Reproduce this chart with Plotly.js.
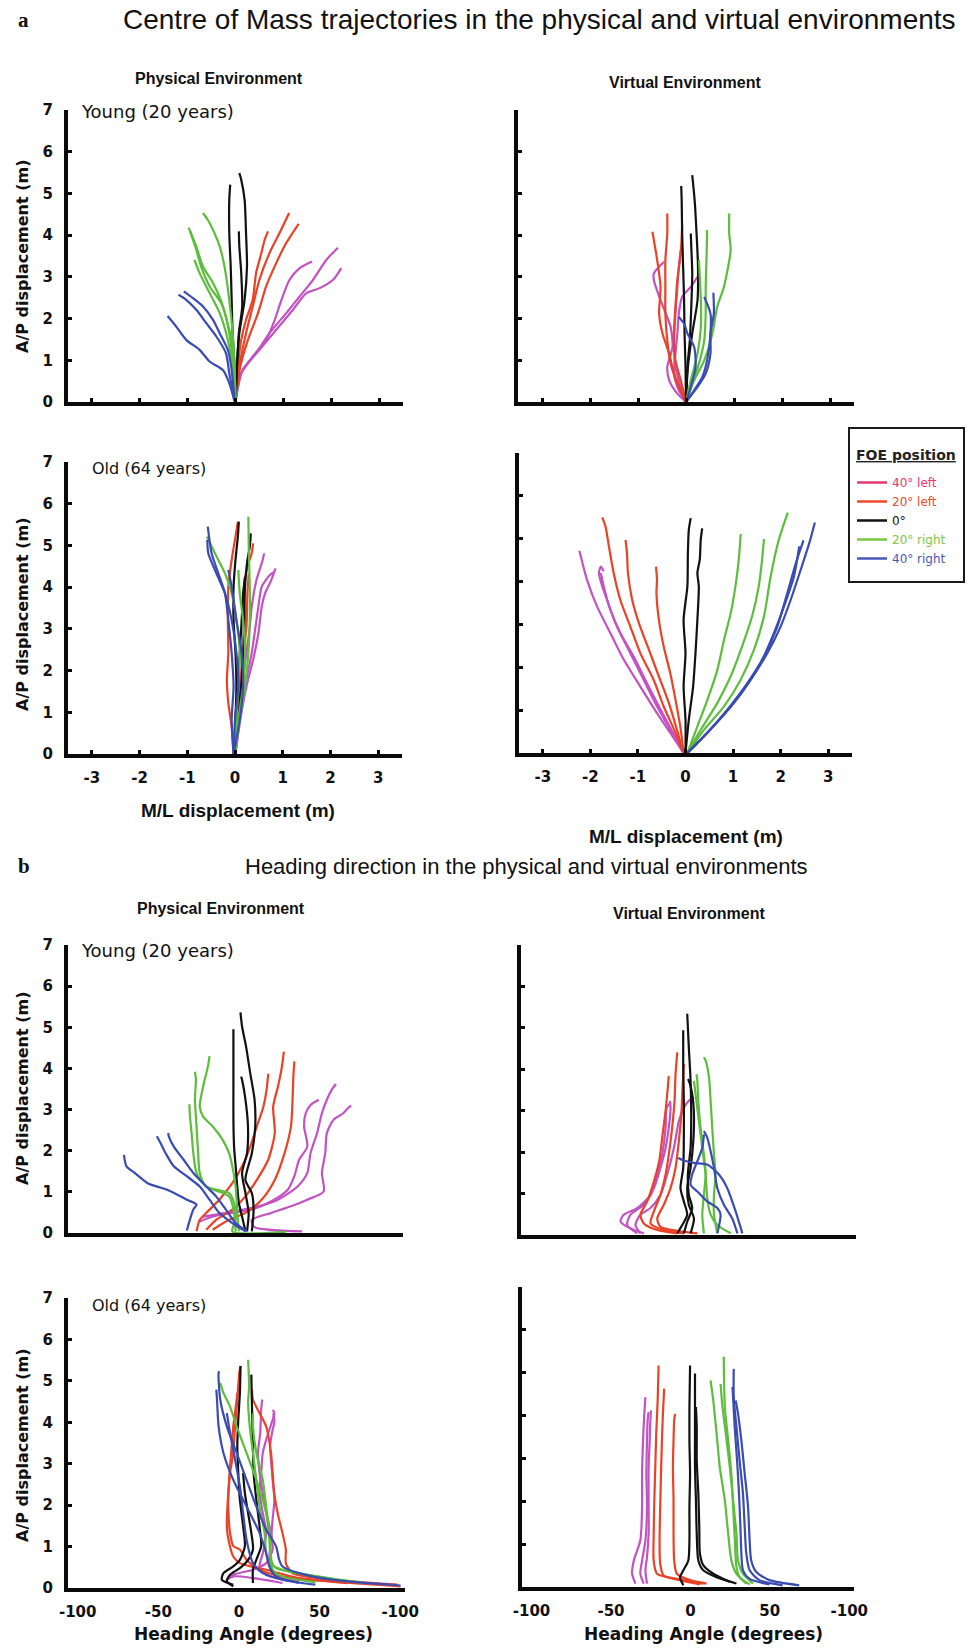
<!DOCTYPE html>
<html>
<head>
<meta charset="utf-8">
<script src="https://cdn.plot.ly/plotly-3.0.1.min.js"></script>
<style>html,body{margin:0;padding:0;background:#fff;}#chart{width:968px;height:1649px;}</style>
</head>
<body>
<div id="chart"></div>
<script>
// ================= DATA =================
// FOE positions (legend)
const conditions = ['40° left', '20° left', '0°', '20° right', '40° right'];
const traceColors = ['#c352c3', '#ea4226', '#111111', '#5dbd3d', '#3a4cb2'];
const legendColors = ['#e6386f', '#ee4a2b', '#111111', '#7cc645', '#4a57b7'];
const mlTicks = [-3, -2, -1, 0, 1, 2, 3];
const mlTickText = ['-3', '-2', '-1', '0', '1', '2', '3'];
const headTicks = [-100, -50, 0, 50, 100];
const headTickText = ['-100', '-50', '0', '50', '-100'];
const apTicks = [0, 1, 2, 3, 4, 5, 6, 7];
const apTickText = ['0', '1', '2', '3', '4', '5', '6', '7'];

// Each trial: flat list [x0, y0, x1, y1, ...]
// ---- a: Centre of Mass, Young, Physical (x = M/L m, y = A/P m)
const comYoungPhysLeft40 = [
  [0,0.01, 0.08,0.61, 0.36,1.09, 0.64,1.49, 0.82,1.97, 0.96,2.45, 1.13,2.93, 1.34,3.21, 1.60,3.37],
  [0,0.01, 0.12,0.69, 0.43,1.17, 0.71,1.65, 1.06,2.13, 1.34,2.53, 1.62,2.93, 1.90,3.41, 2.14,3.70],
  [0,0.01, 0.15,0.77, 0.50,1.25, 0.85,1.73, 1.20,2.21, 1.48,2.61, 1.76,2.73, 2.04,2.93, 2.21,3.21]];
const comYoungPhysLeft20 = [
  [0,0.01, 0.05,0.85, 0.12,1.49, 0.22,1.97, 0.36,2.45, 0.43,3.09, 0.54,3.57, 0.61,3.89, 0.68,4.09],
  [0,0.01, 0.08,0.85, 0.22,1.65, 0.36,2.29, 0.50,2.93, 0.71,3.57, 0.92,4.05, 1.12,4.53],
  [0,0.01, 0.10,0.85, 0.26,1.49, 0.47,2.13, 0.64,2.77, 0.85,3.33, 1.06,3.81, 1.32,4.27]];
const comYoungPhysZero = [
  [0,0.01, -0.02,0.85, -0.06,1.65, -0.08,2.45, -0.10,3.25, -0.13,4.05, -0.13,4.85, -0.11,5.21],
  [0,0.01, 0.03,0.85, 0.08,1.65, 0.19,2.45, 0.24,3.25, 0.22,4.05, 0.19,4.85, 0.12,5.33, 0.08,5.49],
  [0,0.01, 0.03,0.85, 0.07,1.65, 0.14,2.29, 0.12,3.09, 0.08,3.73, 0.07,4.09]];
const comYoungPhysRight20 = [
  [0,0.01, -0.02,0.85, -0.06,1.65, -0.13,2.45, -0.23,3.25, -0.33,3.73, -0.44,4.05, -0.58,4.37, -0.68,4.53],
  [0,0.01, -0.06,1.01, -0.13,1.65, -0.26,2.29, -0.47,2.85, -0.68,3.25, -0.82,3.73, -0.93,4.05, -0.98,4.18],
  [0,0.01, -0.06,0.85, -0.16,1.49, -0.33,2.13, -0.54,2.61, -0.75,3.09, -0.86,3.41],
  [0,0.01, -0.04,1.17, -0.13,1.73, -0.30,2.37, -0.54,2.77, -0.72,3.25, -0.82,3.65, -0.95,4.09]];
const comYoungPhysRight40 = [
  [-0.02,0.01, -0.13,0.45, -0.26,0.76, -0.54,0.97, -0.75,1.25, -1.03,1.49, -1.24,1.81, -1.42,2.06],
  [-0.02,0.05, -0.13,0.69, -0.20,1.17, -0.40,1.57, -0.61,1.89, -0.82,2.21, -1.03,2.45, -1.19,2.57],
  [-0.02,0.05, -0.09,0.85, -0.16,1.25, -0.33,1.65, -0.47,1.97, -0.68,2.29, -0.89,2.49, -1.08,2.65]];

// ---- a: Centre of Mass, Young, Virtual
const comYoungVirtLeft40 = [
  [0,0, -0.18,0.20, -0.35,0.52, -0.39,0.84, -0.28,1.32, -0.32,1.80, -0.42,2.12, -0.53,2.44, -0.67,2.92, -0.67,3.08, -0.46,3.36],
  [0,0, -0.15,0.28, -0.25,0.68, -0.22,1.16, -0.18,1.64, -0.15,2.12, -0.08,2.52, 0.10,2.76, 0.24,3.00],
  [0,0, -0.11,0.36, -0.22,0.84, -0.25,1.48, -0.22,2.12, -0.18,2.76, -0.15,3.24, -0.11,3.64]];
const comYoungVirtLeft20 = [
  [0,0, -0.11,0.28, -0.25,0.68, -0.35,1.16, -0.49,1.64, -0.56,2.12, -0.53,2.76, -0.60,3.40, -0.70,4.08],
  [0,0, -0.18,0.44, -0.32,0.92, -0.39,1.48, -0.43,2.12, -0.43,2.76, -0.43,3.40, -0.39,4.04, -0.39,4.52],
  [0,0, -0.11,0.52, -0.22,1.00, -0.25,1.64, -0.22,2.28, -0.18,2.92, -0.11,3.56, -0.08,4.24]];
const comYoungVirtZero = [
  [0,0, -0.01,0.84, -0.03,1.64, -0.04,2.44, -0.06,3.24, -0.08,4.04, -0.09,4.84, -0.10,5.18],
  [0,0, 0.04,0.84, 0.13,1.64, 0.24,2.44, 0.25,3.24, 0.22,4.04, 0.18,4.84, 0.13,5.44],
  [0,0, 0.03,0.84, 0.08,1.48, 0.11,2.28, 0.13,3.08, 0.11,3.72, 0.10,4.04]];
const comYoungVirtRight20 = [
  [0,0, 0.13,0.44, 0.27,0.92, 0.38,1.48, 0.41,2.12, 0.41,2.76, 0.43,3.56, 0.44,4.12],
  [0,0, 0.17,0.52, 0.38,1.00, 0.55,1.64, 0.65,2.28, 0.79,2.76, 0.93,3.64, 0.90,4.04, 0.90,4.52],
  [0,0, 0.10,0.52, 0.24,1.16, 0.31,1.80, 0.31,2.44, 0.29,2.92, 0.27,3.40]];
const comYoungVirtRight40 = [
  [0,0, 0.24,0.36, 0.41,0.68, 0.51,1.16, 0.51,1.64, 0.58,2.12, 0.57,2.62],
  [0,0, 0.10,0.36, 0.20,0.84, 0.17,1.32, 0.03,1.64, -0.04,1.88, -0.15,2.04],
  [0,0, 0.17,0.28, 0.34,0.60, 0.44,1.00, 0.51,1.64, 0.51,2.12, 0.41,2.44, 0.38,2.52]];

// ---- a: Centre of Mass, Old, Physical
const comOldPhysLeft40 = [
  [0.01,0, 0.07,0.82, 0.14,1.62, 0.24,2.42, 0.31,3.05, 0.35,3.53, 0.45,4.17, 0.58,4.65, 0.61,4.81],
  [0.01,0, 0.11,0.82, 0.24,1.62, 0.38,2.26, 0.49,2.89, 0.56,3.53, 0.63,3.85, 0.76,4.17, 0.85,4.45],
  [0.01,0, 0.09,0.82, 0.21,1.62, 0.35,2.42, 0.43,3.05, 0.49,3.53, 0.56,4.01, 0.73,4.29, 0.83,4.37]];
const comOldPhysLeft20 = [
  [-0.03,0, -0.07,0.66, -0.14,1.22, -0.17,1.78, -0.14,2.42, -0.15,3.21, -0.14,4.01, -0.07,4.65, 0.01,5.21, 0.06,5.57],
  [0,0, 0.06,0.82, 0.14,1.62, 0.21,2.42, 0.21,3.21, 0.19,4.01, 0.26,4.49, 0.35,4.81, 0.38,5.05],
  [0,0, 0.03,0.82, 0.10,1.62, 0.17,2.42, 0.24,3.05, 0.26,3.85, 0.29,4.33]];
const comOldPhysZero = [
  [0,0, 0.01,0.82, 0.03,1.62, 0.01,2.42, -0.03,3.21, -0.03,4.01, 0.01,4.65, 0.06,5.21, 0.08,5.57],
  [0,0, 0.06,0.82, 0.13,1.62, 0.17,2.42, 0.19,3.21, 0.21,4.01, 0.26,4.65, 0.31,4.97, 0.33,5.29],
  [0,0, 0.01,0.82, 0.06,1.62, 0.10,2.42, 0.14,3.21, 0.17,3.85, 0.21,4.25]];
const comOldPhysRight20 = [
  [0,0, 0.03,0.82, 0.07,1.62, 0.10,2.42, 0.03,3.21, -0.07,3.85, -0.21,4.33, -0.42,4.81, -0.59,5.21],
  [0,0, 0.10,0.82, 0.21,1.62, 0.28,2.42, 0.31,3.21, 0.31,4.01, 0.29,4.81, 0.28,5.69],
  [0,0, 0.07,0.82, 0.17,1.62, 0.21,2.42, 0.17,3.21, 0.10,3.85, 0.07,4.41]];
const comOldPhysRight40 = [
  [-0.03,0, -0.07,0.82, -0.03,1.62, -0.07,2.42, -0.14,3.21, -0.21,3.85, -0.35,4.33, -0.49,4.81, -0.57,5.45],
  [-0.03,0, 0,0.82, 0.07,1.62, 0.03,2.42, -0.07,3.21, -0.21,3.85, -0.42,4.41, -0.56,4.81, -0.58,5.13],
  [-0.03,0, 0.10,0.82, 0.17,1.62, 0.14,2.42, 0.03,3.21, -0.07,4.01, -0.14,4.41]];

// ---- a: Centre of Mass, Old, Virtual
const comOldVirtLeft40 = [
  [-0.04,0, -0.32,0.47, -0.60,0.93, -0.95,1.55, -1.30,2.18, -1.58,2.80, -1.86,3.42, -2.07,4.04, -2.23,4.72],
  [-0.04,0, -0.32,0.54, -0.60,1.09, -0.88,1.71, -1.16,2.33, -1.44,2.95, -1.65,3.57, -1.79,4.04, -1.82,4.20, -1.78,4.35, -1.72,4.24],
  [-0.04,0, -0.28,0.51, -0.56,1.09, -0.81,1.63, -1.09,2.25, -1.37,2.80, -1.58,3.34, -1.72,3.89, -1.78,4.20]];
const comOldVirtLeft20 = [
  [-0.04,0, -0.21,0.47, -0.46,1.09, -0.67,1.71, -0.95,2.33, -1.16,2.95, -1.37,3.57, -1.51,4.20, -1.61,4.82, -1.68,5.28, -1.75,5.50],
  [-0.04,0, -0.18,0.54, -0.35,1.17, -0.56,1.79, -0.77,2.41, -0.98,3.03, -1.12,3.57, -1.21,4.20, -1.23,4.66, -1.26,4.97],
  [-0.04,0, -0.11,0.62, -0.21,1.24, -0.32,1.86, -0.46,2.49, -0.56,3.11, -0.61,3.73, -0.60,4.04, -0.62,4.35]];
const comOldVirtZero = [
  [0,0, 0,0.78, -0.04,1.55, 0,2.33, -0.04,3.11, 0.04,3.89, 0.05,4.66, 0.07,5.21, 0.11,5.48],
  [0,0, 0.07,0.78, 0.16,1.55, 0.21,2.33, 0.25,3.11, 0.28,3.89, 0.25,4.20, 0.30,4.51, 0.32,4.97, 0.35,5.24]];
const comOldVirtRight20 = [
  [0.04,0, 0.25,0.62, 0.46,1.24, 0.67,1.94, 0.81,2.64, 0.95,3.26, 1.05,3.89, 1.12,4.51, 1.16,5.11],
  [0.04,0, 0.32,0.54, 0.67,1.17, 0.95,1.79, 1.19,2.49, 1.40,3.19, 1.54,3.89, 1.61,4.51, 1.65,4.99],
  [0.04,0, 0.39,0.54, 0.81,1.09, 1.16,1.71, 1.44,2.41, 1.65,3.19, 1.79,4.12, 1.96,4.97, 2.15,5.61]];
const comOldVirtRight40 = [
  [0.04,0, 0.46,0.47, 0.88,1.01, 1.30,1.63, 1.65,2.25, 1.93,2.95, 2.14,3.73, 2.32,4.43, 2.48,4.96],
  [0.04,0, 0.49,0.51, 0.95,1.09, 1.37,1.71, 1.72,2.33, 2.00,2.95, 2.21,3.57, 2.42,4.27, 2.60,4.89, 2.72,5.38],
  [0.04,0, 0.42,0.43, 0.84,0.93, 1.23,1.48, 1.58,2.10, 1.86,2.80, 2.07,3.42, 2.28,4.12, 2.39,4.82]];

// ---- b: Heading direction, Young, Physical (x = heading angle deg, y = A/P m)
const headYoungPhysLeft40 = [
  [-23.8,0.28, -15.7,0.40, -3.5,0.49, 8.7,0.57, 20.9,0.77, 31.1,1.05, 35.2,1.38, 38.2,1.78, 43.3,2.10, 41.3,2.59, 42.3,2.91, 45.3,3.11, 50.4,3.24],
  [-21.7,0.40, -7.5,0.49, 8.7,0.61, 25.0,0.81, 37.2,1.13, 43.3,1.46, 45.3,1.94, 49.4,2.43, 52.4,2.91, 55.5,3.24, 58.5,3.48, 61.2,3.62],
  [40.0,0.04, 10.0,0.15, 8.7,0.32, 20.9,0.49, 33.1,0.65, 43.3,0.81, 53.5,1.01, 52.4,1.46, 54.5,1.94, 55.5,2.43, 59.6,2.75, 65.7,2.91, 69.7,3.07, 70.7,3.09]];
const headYoungPhysLeft20 = [
  [-25.8,0.04, -23.8,0.32, -19.7,0.49, -11.6,0.81, -3.5,1.21, 2.6,1.62, 7.7,2.10, 11.8,2.59, 15.9,3.07, 17.9,3.48, 18.9,3.87],
  [-19.7,0.08, -13.6,0.32, -3.5,0.57, 4.7,0.89, 11.8,1.29, 18.9,1.78, 23.0,2.43, 22.0,3.07, 25.0,3.56, 27.1,3.96, 28.7,4.41],
  [-15.7,0.08, -5.5,0.32, 4.7,0.49, 14.8,0.81, 23.0,1.29, 29.1,1.94, 33.1,2.59, 34.1,3.24, 34.6,3.80, 35.2,4.17]];
const headYoungPhysZero = [
  [4.7,0.04, 2.6,0.40, 0.6,0.73, -0.4,1.13, -1.4,1.62, -2.4,2.10, -2.8,2.75, -2.8,3.56, -2.8,4.37, -2.8,4.95],
  [8.7,0.04, 9.8,0.57, 8.7,0.97, 4.7,1.29, 8.7,1.94, 10.8,2.59, 10.4,3.24, 7.7,3.88, 5.1,4.53, 2.6,5.02, 1.6,5.36],
  [5.7,0.04, 6.7,0.49, 4.7,0.97, 2.6,1.46, 5.7,1.94, 6.3,2.59, 4.7,3.24, 2.6,3.72, 2.0,3.80]];
const headYoungPhysRight20 = [
  [30.0,0.03, -3.5,0.04, -1.4,0.32, -2.4,0.73, -5.5,0.97, -19.7,1.13, -23.8,1.46, -24.8,1.94, -25.8,2.59, -26.8,3.24, -26.2,3.72, -26.8,3.92],
  [0.6,0.04, -0.4,0.49, -1.4,1.13, -3.5,1.62, -5.5,1.94, -9.6,2.27, -15.7,2.59, -21.7,2.83, -23.8,3.07, -21.7,3.56, -18.7,4.05, -17.7,4.30],
  [-1.4,0.04, -2.4,0.49, -5.5,0.89, -19.7,1.13, -25.8,1.46, -27.8,1.94, -28.9,2.43, -29.9,2.83, -30.3,3.13]];
const headYoungPhysRight40 = [
  [-31.9,0.06, -27.8,0.57, -25.8,0.69, -31.9,0.81, -44.1,1.05, -56.3,1.21, -64.4,1.46, -69.5,1.62, -71.1,1.90],
  [4.7,0.04, -3.5,0.24, -11.6,0.49, -17.7,0.81, -23.8,1.13, -31.9,1.38, -40.0,1.62, -45.1,1.94, -48.2,2.18, -50.6,2.35],
  [5.7,0.04, -1.4,0.24, -7.5,0.57, -13.6,0.89, -19.7,1.13, -27.8,1.46, -33.9,1.78, -40.0,2.10, -43.1,2.35, -43.5,2.43]];

// ---- b: Heading direction, Young, Virtual
const headYoungVirtLeft40 = [
  [-29.4,0.04, -37.7,0.16, -43.9,0.32, -41.9,0.49, -33.5,0.65, -25.2,0.97, -21.0,1.46, -17.9,1.94, -15.8,2.59, -15.2,3.07, -12.7,3.20],
  [-31.5,0.04, -34.6,0.24, -31.5,0.49, -25.2,0.65, -19.0,0.97, -14.8,1.46, -10.6,2.10, -7.5,2.75, -4.4,3.07, -1.3,3.24, 1.9,3.32],
  [-33.5,0.04, -39.8,0.24, -37.7,0.49, -29.4,0.73, -23.1,1.13, -19.0,1.62, -15.8,2.10, -13.8,2.59, -12.7,3.07, -13.1,3.24]];
const headYoungVirtLeft20 = [
  [-8.5,0.04, -21.0,0.12, -29.4,0.28, -31.5,0.49, -27.3,0.81, -23.1,1.29, -19.8,1.78, -17.9,2.35, -15.8,3.00, -14.4,3.56, -13.8,3.84],
  [-4.4,0.04, -16.9,0.12, -25.2,0.28, -23.1,0.57, -19.0,0.97, -15.8,1.46, -13.8,1.94, -11.7,2.59, -10.2,3.24, -9.6,3.88, -8.5,4.41],
  [4.0,0.04, -8.5,0.10, -19.0,0.20, -21.0,0.40, -16.9,0.73, -12.7,1.13, -9.6,1.62, -7.5,2.27, -6.0,2.91, -5.2,3.56, -4.4,4.13]];
const headYoungVirtZero = [
  [-8.5,0.04, -5.4,0.24, -2.3,0.49, -4.4,0.81, -6.5,1.13, -4.8,1.62, -4.4,2.43, -4.4,3.24, -4.8,4.05, -4.8,4.94],
  [-4.4,0.04, -2.3,0.32, 0.8,0.65, -1.3,0.97, -1.9,1.46, -0.2,2.10, 0.2,2.91, -0.2,3.72, -1.3,4.53, -1.9,5.02, -2.3,5.34],
  [-0.2,0.04, 1.9,0.40, -1.3,0.73, -2.3,1.13, -0.2,1.62, 1.5,2.27, 1.9,2.91, 0.8,3.40, -1.3,3.72, -1.9,3.76]];
const headYoungVirtRight20 = [
  [16.5,0.04, 14.4,0.49, 14.4,0.97, 15.4,1.46, 14.4,1.94, 13.3,2.59, 12.3,3.24, 11.3,3.80, 9.2,4.21, 8.1,4.29],
  [8.1,0.04, 7.1,0.49, 8.1,0.97, 9.2,1.46, 8.1,1.94, 6.0,2.59, 4.6,3.24, 4.0,3.72, 3.5,3.88],
  [24.8,0.04, 16.5,0.24, 12.3,0.49, 10.2,0.89, 9.2,1.46, 7.1,2.10, 5.0,2.75, 2.9,3.40, 1.9,3.72]];
const headYoungVirtRight40 = [
  [32.1,0.04, 27.9,0.57, 22.7,1.13, 17.5,1.46, 10.2,1.70, 1.9,1.74, -4.4,1.80, -7.9,1.86],
  [16.5,0.04, 18.5,0.49, 16.5,0.65, 10.2,0.81, 4.0,1.05, -0.2,1.21, 0.8,1.46, 4.0,1.78, 7.1,2.10, 8.1,2.43],
  [29.0,0.04, 25.8,0.40, 20.6,0.73, 16.5,1.13, 14.4,1.62, 12.3,2.02, 10.2,2.35, 8.1,2.51]];

// ---- b: Heading direction, Old, Physical
const headOldPhysLeft40 = [
  [27.0,0.12, 8.7,0.24, -3.5,0.28, -7.5,0.20, -3.5,0.32, 8.7,0.44, 16.9,0.60, 20.9,0.93, 19.9,1.33, 16.9,1.81, 14.8,2.29, 12.8,2.78, 11.8,3.26, 13.2,3.74, 13.8,4.30, 14.4,4.55],
  [37.2,0.16, 16.9,0.32, 12.8,0.52, 14.8,0.84, 16.9,1.33, 14.8,1.81, 12.8,2.29, 13.8,2.78, 14.8,3.26, 16.9,3.58, 20.9,4.06, 22.0,4.22, 20.9,4.30],
  [27.0,0.20, 20.9,0.36, 18.9,0.68, 19.9,1.17, 20.9,1.65, 22.0,2.13, 20.9,2.61, 19.9,3.10, 19.3,3.42, 20.5,3.74, 22.0,4.02, 21.3,4.22]];
const headOldPhysLeft20 = [
  [100.2,0.04, 57.5,0.16, 27.0,0.28, 12.8,0.44, 4.7,0.68, 0.6,0.93, -3.5,1.01, -5.5,1.33, -6.5,1.81, -6.5,2.29, -5.5,2.78, -3.5,3.26, -2.4,3.90, -1.0,4.55, 0.2,5.19, 1.0,5.36],
  [98.2,0.08, 57.5,0.20, 33.1,0.36, 29.1,0.60, 29.1,0.93, 27.0,1.33, 24.0,1.81, 21.9,2.29, 20.9,2.78, 19.9,3.26, 16.9,3.90, 12.8,4.22, 8.7,4.55, 8.1,4.79],
  [67.7,0.12, 37.2,0.24, 16.9,0.44, 0.6,0.60, -3.5,0.76, -6.5,1.17, -7.5,1.49, -7.1,1.97, -6.3,2.45, -5.5,2.94, -4.5,3.42, -3.5,3.90, -1.4,4.55, -1.0,4.71]];
const headOldPhysZero = [
  [-3.5,0.08, -10.6,0.20, -9.6,0.36, -3.5,0.52, 0.6,0.68, 3.7,1.01, 2.6,1.49, 0.6,2.13, -0.4,2.78, -1.0,3.42, -0.4,4.06, 0.6,4.71, 1.0,5.36],
  [8.7,0.12, 8.7,0.44, 10.8,0.68, 13.8,1.01, 12.8,1.49, 10.8,2.13, 9.1,2.78, 8.7,3.42, 8.3,4.06, 7.9,4.71, 7.7,5.15],
  [-3.5,0.04, -7.5,0.16, -5.5,0.32, 0.6,0.48, 5.7,0.68, 8.7,0.93, 7.7,1.33, 5.7,1.81, 3.7,2.29, 2.6,2.78]];
const headOldPhysRight20 = [
  [77.8,0.12, 47.4,0.28, 27.0,0.44, 18.9,0.60, 16.9,0.84, 15.9,1.33, 12.8,1.97, 10.8,2.61, 8.7,3.26, 6.7,3.90, 5.7,4.47, 6.3,4.87, 5.7,5.51],
  [67.7,0.16, 37.2,0.36, 23.0,0.48, 19.9,0.68, 18.9,1.17, 16.9,1.81, 10.8,2.61, 4.7,3.26, -1.4,3.90, -5.5,4.38, -9.6,4.71, -11.6,4.95],
  [47.4,0.14, 27.0,0.28, 20.9,0.44, 19.9,0.76, 18.9,1.33, 16.9,1.97, 14.8,2.61, 10.8,3.26, 8.7,3.90, 8.7,4.22]];
const headOldPhysRight40 = [
  [100.2,0.06, 57.5,0.20, 37.2,0.36, 27.0,0.52, 25.0,0.68, 23.0,1.01, 16.9,1.41, 10.8,1.97, 4.7,2.61, -1.4,3.26, -7.5,3.90, -11.6,4.55, -12.6,5.19, -12.2,5.23],
  [37.2,0.12, 23.0,0.28, 18.9,0.52, 16.9,0.84, 12.8,1.33, 4.7,1.97, -3.5,2.61, -9.6,3.26, -12.6,3.90, -13.6,4.55, -14.0,4.79],
  [47.4,0.08, 27.0,0.20, 14.8,0.36, 8.7,0.60, 4.7,1.17, 2.6,1.81, 0.6,2.45, -2.4,3.10, -5.5,3.74, -7.5,4.22]];

// ---- b: Heading direction, Old, Virtual
const headOldVirtLeft40 = [
  [-34.6,0.08, -36.7,0.31, -35.6,0.62, -31.5,1.09, -30.4,1.87, -30.4,2.64, -29.8,3.42, -29.0,4.04, -28.3,4.43],
  [-29.4,0.08, -31.5,0.31, -30.4,0.62, -28.3,1.09, -27.3,1.87, -27.7,2.64, -27.3,3.42, -26.9,3.89, -26.3,4.08],
  [-27.3,0.08, -28.3,0.39, -27.3,0.70, -26.3,1.24, -26.3,2.02, -26.3,2.80, -25.6,3.42, -25.2,3.89, -24.8,4.12]];
const headOldVirtLeft20 = [
  [8.1,0.08, -8.5,0.19, -21.0,0.31, -23.1,0.62, -23.1,1.24, -22.7,2.02, -22.1,2.80, -21.5,3.58, -20.6,4.35, -20.0,5.17],
  [6.0,0.06, -6.5,0.16, -16.9,0.27, -19.0,0.54, -19.4,1.09, -19.0,1.87, -18.5,2.64, -17.9,3.42, -17.3,4.04, -16.5,4.63],
  [10.2,0.08, -0.2,0.16, -8.5,0.31, -10.2,0.62, -10.6,1.24, -10.6,2.02, -11.0,2.80, -10.6,3.42, -10.2,3.89, -9.6,4.04]];
const headOldVirtZero = [
  [-4.4,0.04, -6.5,0.23, -4.4,0.39, -1.3,0.62, -0.6,1.09, -0.6,1.87, -0.2,2.64, -0.6,3.42, -0.6,4.20, -0.2,5.17],
  [29.0,0.08, 16.5,0.23, 8.1,0.39, 5.0,0.62, 4.0,1.24, 3.5,2.02, 2.9,2.80, 2.9,3.58, 2.9,4.20, 2.9,4.98],
  [24.8,0.12, 14.4,0.31, 8.1,0.51, 6.0,0.78, 5.6,1.40, 5.0,2.18, 4.0,2.95, 4.0,3.73, 3.5,4.20]];
const headOldVirtRight20 = [
  [35.2,0.08, 29.0,0.31, 25.8,0.62, 23.8,1.24, 21.7,2.02, 18.5,2.80, 16.5,3.58, 14.4,4.35, 12.7,4.82],
  [37.3,0.06, 31.0,0.23, 29.0,0.47, 28.0,1.09, 26.9,1.87, 25.8,2.64, 23.8,3.42, 21.7,4.20, 21.0,5.37],
  [39.4,0.08, 33.1,0.31, 30.0,0.62, 29.0,1.24, 26.9,2.02, 24.8,2.80, 22.3,3.58, 20.2,4.20, 19.0,4.74]];
const headOldVirtRight40 = [
  [58.1,0.04, 43.5,0.16, 37.3,0.39, 35.2,0.78, 34.2,1.40, 33.1,2.18, 31.0,2.95, 29.0,3.73, 27.3,4.43, 27.3,5.09],
  [49.8,0.06, 37.3,0.19, 33.1,0.39, 32.1,0.78, 31.5,1.40, 30.6,2.18, 29.4,2.95, 27.9,3.73, 26.9,4.43, 26.5,4.67],
  [68.5,0.04, 49.8,0.16, 41.5,0.35, 38.3,0.62, 37.3,1.09, 36.3,1.87, 34.2,2.64, 32.1,3.42, 30.0,4.04, 28.5,4.35]];

// ================= LAYOUT HELPERS =================
const W = 968, H = 1649;
const px = x => x / W;
const py = y => 1 - y / H;

const panels = [
  {ax: '', box: [68, 403, 110, 402], xr: [-3.5, 3.5], kind: 'com', xlab: false, ylab: true,
   sets: [comYoungPhysLeft40, comYoungPhysLeft20, comYoungPhysZero, comYoungPhysRight20, comYoungPhysRight40]},
  {ax: '2', box: [518, 854, 110, 402], xr: [-3.5, 3.5], kind: 'com', xlab: false, ylab: false,
   sets: [comYoungVirtLeft40, comYoungVirtLeft20, comYoungVirtZero, comYoungVirtRight20, comYoungVirtRight40]},
  {ax: '3', box: [68, 402, 462, 754], xr: [-3.5, 3.5], kind: 'com', xlab: true, ylab: true,
   sets: [comOldPhysLeft40, comOldPhysLeft20, comOldPhysZero, comOldPhysRight20, comOldPhysRight40]},
  {ax: '4', box: [519, 852, 453, 753], xr: [-3.5, 3.5], kind: 'com', xlab: true, ylab: false,
   sets: [comOldVirtLeft40, comOldVirtLeft20, comOldVirtZero, comOldVirtRight20, comOldVirtRight40]},
  {ax: '5', box: [68, 403, 945, 1233], xr: [-106, 103], kind: 'head', xlab: false, ylab: true,
   sets: [headYoungPhysLeft40, headYoungPhysLeft20, headYoungPhysZero, headYoungPhysRight20, headYoungPhysRight40]},
  {ax: '6', box: [521, 856, 945, 1235], xr: [-106, 103], kind: 'head', xlab: false, ylab: false,
   sets: [headYoungVirtLeft40, headYoungVirtLeft20, headYoungVirtZero, headYoungVirtRight20, headYoungVirtRight40]},
  {ax: '7', box: [68, 405, 1298, 1588], xr: [-106, 103], kind: 'head', xlab: true, ylab: true,
   sets: [headOldPhysLeft40, headOldPhysLeft20, headOldPhysZero, headOldPhysRight20, headOldPhysRight40]},
  {ax: '8', box: [522, 854, 1287, 1587], xr: [-106, 103], kind: 'head', xlab: true, ylab: false,
   sets: [headOldVirtLeft40, headOldVirtLeft20, headOldVirtZero, headOldVirtRight20, headOldVirtRight40]}
];

const traces = [];
const layout = {
  width: W, height: H,
  margin: {l: 0, r: 0, t: 0, b: 0},
  paper_bgcolor: '#ffffff', plot_bgcolor: 'rgba(0,0,0,0)',
  showlegend: true,
  font: {family: 'DejaVu Sans, sans-serif', color: '#111'},
  annotations: [], shapes: []
};

const tickFont = {family: 'DejaVu Sans', size: 15, weight: 'bold', color: '#111'};

panels.forEach(p => {
  const [x0, x1, y0, y1] = p.box;
  const xa = 'xaxis' + p.ax, ya = 'yaxis' + p.ax;
  const xref = 'x' + p.ax, yref = 'y' + p.ax;
  layout[xa] = {
    domain: [px(x0), px(x1)], range: p.xr, anchor: yref,
    showline: true, linecolor: '#0a0a0a', linewidth: 4,
    showgrid: false, zeroline: false, fixedrange: true,
    tickmode: 'array',
    tickvals: p.kind === 'com' ? mlTicks : headTicks,
    ticktext: p.kind === 'com' ? mlTickText : headTickText,
    ticks: p.kind === 'com' ? 'inside' : '', ticklen: 4, tickwidth: 3, tickcolor: '#0a0a0a',
    showticklabels: p.xlab, tickfont: tickFont, ticklabelstandoff: 7
  };
  layout[ya] = {
    domain: [py(y1), py(y0)], range: [0, 7], anchor: xref,
    showline: true, linecolor: '#0a0a0a', linewidth: 4,
    showgrid: false, zeroline: false, fixedrange: true,
    tickmode: 'array', tickvals: apTicks, ticktext: apTickText,
    ticks: 'inside', ticklen: 4, tickwidth: 3, tickcolor: '#0a0a0a',
    showticklabels: p.ylab, tickfont: tickFont, ticklabelstandoff: 8
  };
  p.sets.forEach((trials, ci) => {
    trials.forEach(t => {
      const xs = [], ys = [];
      for (let i = 0; i < t.length; i += 2) { xs.push(t[i]); ys.push(t[i + 1]); }
      traces.push({
        type: 'scatter', mode: 'lines', x: xs, y: ys, xaxis: xref, yaxis: yref,
        line: {color: traceColors[ci], width: 2.2, shape: 'spline', smoothing: 0.7},
        showlegend: false, hoverinfo: 'skip'
      });
    });
  });
});

// legend entries (FOE position)
conditions.forEach((c, i) => {
  traces.push({
    type: 'scatter', mode: 'lines', x: [null], y: [null], xaxis: 'x4', yaxis: 'y4',
    name: "<span style='color:" + legendColors[i] + "'>" + c + "</span>",
    line: {color: legendColors[i], width: 2.5}, showlegend: true
  });
});
layout.legend = {
  x: px(852), y: py(468), xanchor: 'left', yanchor: 'top',
  borderwidth: 0, bgcolor: 'rgba(0,0,0,0)',
  font: {family: 'DejaVu Sans', size: 12, color: '#111'},
  tracegroupgap: 0, itemwidth: 30, traceorder: 'normal'
};
// legend frame
layout.shapes.push({type: 'rect', xref: 'paper', yref: 'paper',
  x0: px(849), x1: px(964), y0: py(582), y1: py(428),
  line: {color: '#1a1a1a', width: 2}, fillcolor: 'rgba(0,0,0,0)'});

function txt(text, x, y, size, opts) {
  const o = Object.assign({family: 'DejaVu Sans', weight: 'normal', xanchor: 'center', angle: 0, color: '#111'}, opts || {});
  layout.annotations.push({
    text: text, x: px(x), y: py(y), xref: 'paper', yref: 'paper',
    xanchor: o.xanchor, yanchor: 'middle', showarrow: false, textangle: o.angle,
    font: {family: o.family, size: size, weight: o.weight, color: o.color}
  });
}
const sansL = 'Liberation Sans, Arial, sans-serif';

txt("<span style='text-decoration:underline'>FOE position</span>", 906, 455, 14, {weight: 'bold', color: '#222'});

// Section a
txt('a', 16, 20, 21, {family: 'Liberation Serif', weight: 'bold', xanchor: 'left'});
txt('Centre of Mass trajectories in the physical and virtual environments', 539, 20, 28, {family: sansL});
txt('Physical Environment', 219, 78, 16, {family: sansL, weight: 'bold'});
txt('Virtual Environment', 685, 82, 16, {family: sansL, weight: 'bold'});
txt('Young (20 years)', 79, 112, 18, {xanchor: 'left'});
txt('Old (64 years)', 90, 468, 16, {xanchor: 'left'});
txt('A/P displacement (m)', 22, 257, 16, {angle: -90, weight: 'bold'});
txt('A/P displacement (m)', 22, 615, 16, {angle: -90, weight: 'bold'});
txt('M/L displacement (m)', 238, 810, 19, {family: sansL, weight: 'bold'});
txt('M/L displacement (m)', 686, 836, 19, {family: sansL, weight: 'bold'});

// Section b
txt('b', 16, 866, 21, {family: 'Liberation Serif', weight: 'bold', xanchor: 'left'});
txt('Heading direction in the physical and virtual environments', 526, 866, 22, {family: sansL});
txt('Physical Environment', 221, 908, 16, {family: sansL, weight: 'bold'});
txt('Virtual Environment', 689, 913, 16, {family: sansL, weight: 'bold'});
txt('Young (20 years)', 79, 951, 18, {xanchor: 'left'});
txt('Old (64 years)', 90, 1305, 16, {xanchor: 'left'});
txt('A/P displacement (m)', 22, 1089, 16, {angle: -90, weight: 'bold'});
txt('A/P displacement (m)', 22, 1446, 16, {angle: -90, weight: 'bold'});
txt('Heading Angle (degrees)', 253, 1634, 17, {weight: 'bold'});
txt('Heading Angle (degrees)', 703, 1634, 17, {weight: 'bold'});

Plotly.newPlot('chart', traces, layout, {staticPlot: true, displayModeBar: false});
</script>
</body>
</html>
